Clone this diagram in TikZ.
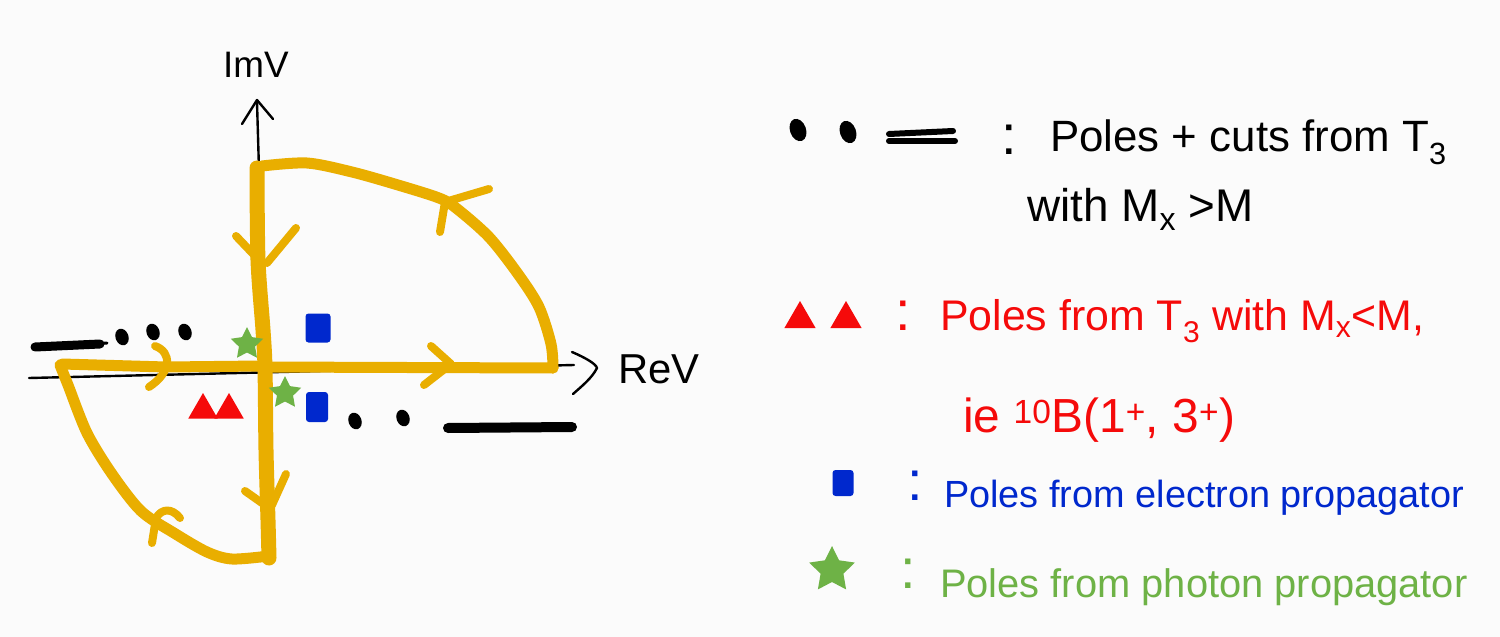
\documentclass[tikz,border=0pt]{standalone}
\usepackage{fontspec}
\setmainfont{Liberation Sans}
\usetikzlibrary{shapes.geometric}
\definecolor{cont}{RGB}{233,174,0}
\definecolor{poleblue}{RGB}{0,40,205}
\definecolor{polered}{RGB}{245,10,10}
\definecolor{polegreen}{RGB}{110,178,70}
\definecolor{bg}{RGB}{251,251,251}
\begin{document}
\begin{tikzpicture}[x=1bp,y=-1bp, line cap=round, line join=round,
  contour/.style={draw=cont, line width=11bp},
  carrow/.style={draw=cont, line width=8bp},
  axisline/.style={draw=black, line width=2.4bp},
  cutline/.style={draw=black, line width=9bp},
  blackpole/.style={ellipse, fill=black, inner sep=0pt, minimum width=13bp, minimum height=17bp, rotate=20},
  bluepole/.style={rectangle, rounded corners=3bp, fill=poleblue, inner sep=0pt, minimum width=25bp, minimum height=29bp},
  greenpole/.style={star, star points=5, star point ratio=2, fill=polegreen, inner sep=0pt, minimum size=34bp},
  redpole/.style={regular polygon, regular polygon sides=3, fill=polered, inner sep=0pt, minimum size=34bp},
  lbl/.style={inner sep=0pt, anchor=base west},
  colon/.style={inner sep=0pt, font=\fontsize{56}{60}\selectfont}
]
\useasboundingbox (0,0) rectangle (1500,637);
\fill[bg] (0,0) rectangle (1500,637);

% axes
\draw[axisline] (29,378) -- (574,365);
\draw[axisline] (572,352) .. controls (586,358) and (596,364) .. (597,368) .. controls (592,378) and (582,386) .. (573,394);
\draw[axisline] (259,170) -- (257,102);
\draw[axisline] (242,124) -- (257,100) -- (273,119);
\node[inner sep=0pt, anchor=base, font=\fontsize{37}{40}\selectfont] (imv) at (256,78) {ImV};
\node[inner sep=0pt, anchor=base west, font=\fontsize{42}{46}\selectfont] (rev) at (618,383) {ReV};

% cuts
\draw[cutline] (35,347) -- (100,344);
\draw[black, line width=3bp] (95,344) -- (107,343);
\draw[cutline, line width=10bp] (448,428) -- (572,427);

% contour
\draw[contour] (262,367) -- (553,368);
\draw[contour] plot[smooth] coordinates {(553,368) (551,344) (539,307) (518,274) (489,237) (456,208) (439,198) (398,185) (352,172) (307,163) (262,166)};
\draw[contour] (262,366) -- (166,367) -- (62,364);
\draw[contour] plot[smooth] coordinates {(60,365) (68,385) (87,433) (112,474) (141,511) (174,533) (207,552) (232,559) (269,556)};
\draw[contour, line width=15bp] plot[smooth] coordinates {(257,168) (258,260) (263,330) (265,368) (266,450) (268,520) (269,558)};

% contour arrows
\draw[carrow] (489,189) -- (445,202) -- (440,232);
\draw[carrow] (431,346) -- (451,364) -- (424,385);
\draw[carrow] (155,346) .. controls (172,352) and (172,372) .. (149,387);
\draw[carrow] (236,236) -- (257,258);
\draw[carrow] (296,228) -- (267,263);
\draw[carrow] (245,491) -- (262,503);
\draw[carrow] (286,474) -- (272,505);
\draw[carrow] (180,518) .. controls (172,508) and (162,508) .. (156,518) -- (152,543);

% poles
\node[blackpole] (b1) at (122,337) {};
\node[blackpole] (b2) at (153,332) {};
\node[blackpole] (b3) at (185,332) {};
\node[blackpole] (b4) at (355,421) {};
\node[blackpole] (b5) at (403,418) {};
\node[greenpole] (g1) at (247,344) {};
\node[greenpole] (g2) at (285,393) {};
\node[bluepole] (q1) at (318,328) {};
\node[bluepole, minimum width=22bp, minimum height=30bp] (q2) at (317,407) {};
\node[redpole] (r1) at (203,410) {};
\node[redpole] (r2) at (229,410) {};

% legend row 1
\node[blackpole, minimum width=16bp, minimum height=23bp] (lb1) at (798,130) {};
\node[blackpole, minimum width=16bp, minimum height=23bp] (lb2) at (848,132) {};
\draw[black, line width=6bp] (889,134) -- (953,131);
\draw[black, line width=6bp] (889,141) -- (955,141);
\node[colon] (c1) at (1009,140) {:};
\node[lbl, font=\fontsize{44}{48}\selectfont] (l1) at (1050,152) {Poles + cuts from T\textsubscript{3}};
\node[lbl, font=\fontsize{46}{50}\selectfont] (l2) at (1027,222) {with M\textsubscript{x} >M};

% legend row 2
\node[redpole, minimum size=36bp] (lr1) at (800,319) {};
\node[redpole, minimum size=36bp] (lr2) at (846,319) {};
\node[colon, text=polered] (c2) at (903,316) {:};
\node[lbl, text=polered, font=\fontsize{43}{47}\selectfont] (l3) at (940,330) {Poles from T\textsubscript{3} with M\textsubscript{x}<M,};
\node[lbl, text=polered, font=\fontsize{48}{52}\selectfont] (l4) at (963,432) {ie \textsuperscript{10}B(1\textsuperscript{+}, 3\textsuperscript{+})};

% legend row 3
\node[bluepole, minimum width=21bp, minimum height=26bp] (lq) at (843,483) {};
\node[colon, text=poleblue] (c3) at (915,486) {:};
\node[lbl, text=poleblue, font=\fontsize{38}{42}\selectfont] (l5) at (944,507) {Poles from electron propagator};

% legend row 4
\node[greenpole, minimum size=48bp] (lg) at (832,570) {};
\node[colon, text=polegreen] (c4) at (908,574) {:};
\node[lbl, text=polegreen, font=\fontsize{40}{44}\selectfont] (l6) at (940,597) {Poles from photon propagator};
\end{tikzpicture}
\end{document}
